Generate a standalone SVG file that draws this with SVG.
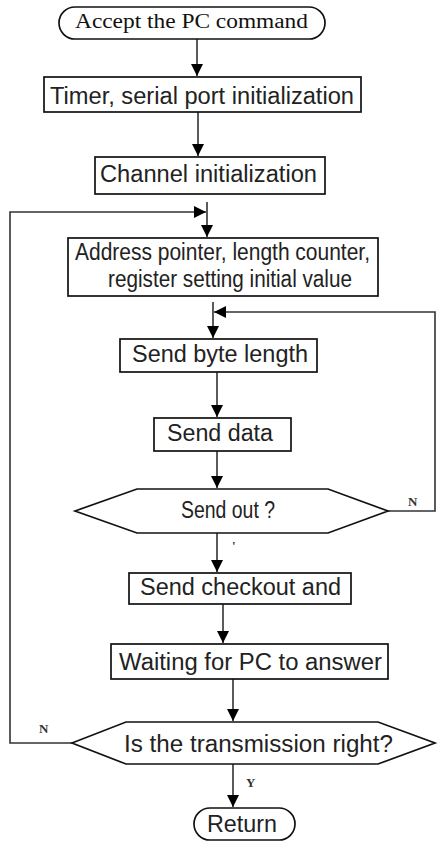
<svg xmlns="http://www.w3.org/2000/svg" width="448" height="842" viewBox="0 0 448 842">
  <style>
    .box { fill: #ffffff; stroke: #111111; stroke-width: 1.7; }
    .conn { fill: none; stroke: #333333; stroke-width: 1.6; }
    .sans { font-family: "Liberation Sans", Arial, sans-serif; font-size: 23px; fill: #222222; }
    .serif { font-family: "Liberation Serif", "Times New Roman", serif; font-size: 20px; fill: #111111; }
    .lbl { font-family: "Liberation Serif", "Times New Roman", serif; font-size: 13px; font-weight: bold; fill: #333333; }
  </style>
  <defs>
    <marker id="arrow" viewBox="0 0 10 10" refX="10" refY="5" markerWidth="12" markerHeight="12" markerUnits="userSpaceOnUse" orient="auto">
      <path d="M0,0 L10,5 L0,10 z" fill="#000000"/>
    </marker>
  </defs>
  <rect width="448" height="842" fill="#ffffff"/>

  <!-- connectors -->
  <g id="connectors">
    <line class="conn" x1="197" y1="39" x2="197" y2="76" marker-end="url(#arrow)"/>
    <line class="conn" x1="198" y1="112" x2="198" y2="156" marker-end="url(#arrow)"/>
    <line class="conn" x1="207" y1="202" x2="207" y2="237" marker-end="url(#arrow)"/>
    <path class="conn" d="M72,743 L10,743 L10,212 L206,212" marker-end="url(#arrow)"/>
    <line class="conn" x1="213" y1="302" x2="213" y2="338" marker-end="url(#arrow)"/>
    <path class="conn" d="M388,511 L435,511 L435,312 L214,312" marker-end="url(#arrow)"/>
    <line class="conn" x1="217" y1="372" x2="217" y2="417" marker-end="url(#arrow)"/>
    <line class="conn" x1="217" y1="451" x2="217" y2="488" marker-end="url(#arrow)"/>
    <line class="conn" x1="217" y1="533" x2="217" y2="572" marker-end="url(#arrow)"/>
    <line class="conn" x1="223" y1="604" x2="223" y2="643" marker-end="url(#arrow)"/>
    <line class="conn" x1="233" y1="679" x2="233" y2="721" marker-end="url(#arrow)"/>
    <line class="conn" x1="233" y1="764" x2="233" y2="807" marker-end="url(#arrow)"/>
    <text class="lbl" x="408" y="506">N</text>
    <text class="lbl" x="39" y="733">N</text>
    <text class="lbl" x="246" y="787">Y</text>
    <text class="lbl" x="232" y="550" fill="#888888">'</text>
  </g>

  <g id="start">
    <rect class="box" x="59" y="7" width="266" height="32" rx="16" ry="16"/>
    <text class="serif" x="75" y="28" textLength="233" lengthAdjust="spacingAndGlyphs">Accept the PC command</text>
  </g>

  <g id="init-timer">
    <rect class="box" x="44" y="77" width="317" height="35"/>
    <text class="sans" x="50" y="104" textLength="304" lengthAdjust="spacingAndGlyphs">Timer, serial port initialization</text>
  </g>

  <g id="init-channel">
    <rect class="box" x="95" y="157" width="230" height="37"/>
    <text class="sans" x="100" y="182" textLength="217" lengthAdjust="spacingAndGlyphs">Channel initialization</text>
  </g>

  <g id="init-registers">
    <rect class="box" x="68" y="238" width="310" height="58"/>
    <text class="sans" x="75" y="260" textLength="295" lengthAdjust="spacingAndGlyphs">Address pointer, length counter,</text>
    <text class="sans" x="108" y="287" textLength="244" lengthAdjust="spacingAndGlyphs">register setting initial value</text>
  </g>

  <g id="send-length">
    <rect class="box" x="120" y="339" width="197" height="33"/>
    <text class="sans" x="132" y="362" textLength="176" lengthAdjust="spacingAndGlyphs">Send byte length</text>
  </g>

  <g id="send-data">
    <rect class="box" x="154" y="418" width="137" height="33"/>
    <text class="sans" x="167" y="441" textLength="106" lengthAdjust="spacingAndGlyphs">Send data</text>
  </g>

  <g id="sent-check">
    <polygon class="box" points="75,511 137,489 328,489 388,511 328,533 137,533"/>
    <text class="sans" x="181" y="518" font-size="20" textLength="94" lengthAdjust="spacingAndGlyphs">Send out ?</text>
  </g>

  <g id="send-checkout">
    <rect class="box" x="129" y="573" width="222" height="31"/>
    <text class="sans" x="140" y="595" textLength="201" lengthAdjust="spacingAndGlyphs">Send checkout and</text>
  </g>

  <g id="wait-answer">
    <rect class="box" x="111" y="644" width="277" height="35"/>
    <text class="sans" x="119" y="670" textLength="263" lengthAdjust="spacingAndGlyphs">Waiting for PC to answer</text>
  </g>

  <g id="transmission-check">
    <polygon class="box" points="72,743 126,722 378,722 435,743 378,764 126,764"/>
    <text class="sans" x="124" y="752" textLength="269" lengthAdjust="spacingAndGlyphs">Is the transmission right?</text>
  </g>

  <g id="return">
    <rect class="box" x="194" y="808" width="101" height="32" rx="16" ry="16"/>
    <text class="sans" x="207" y="832" textLength="70" lengthAdjust="spacingAndGlyphs">Return</text>
  </g>
</svg>
